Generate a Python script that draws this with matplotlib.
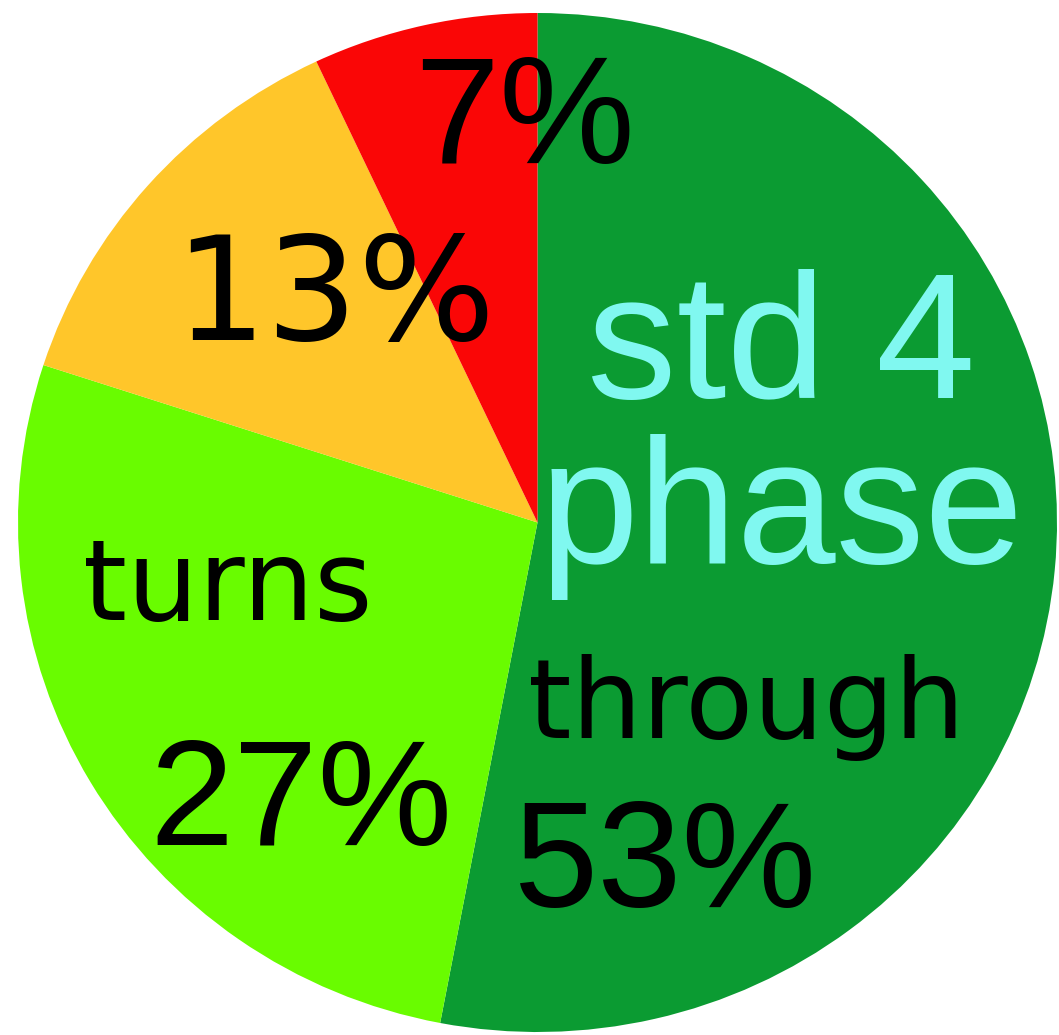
import matplotlib
matplotlib.use('Agg')
import matplotlib.pyplot as plt

# slice data, clockwise from 12 o'clock
shares = [53, 27, 13, 7]
slice_colors = ['#0b9b32', '#69fc00', '#ffc62a', '#fa0606']

# labels inside the pie
label_texts = ['7%', '13%', 'std 4', 'phase', 'turns', '27%', 'through', '53%']
label_px = [(525, 163), (335, 340), (781, 398), (782, 563),
            (228, 620), (301, 845), (746, 738), (666, 907)]
label_sizes = [110, 104, 129, 128, 81, 109, 80, 109]
label_fonts = ['Liberation Sans', 'DejaVu Sans', 'Liberation Sans', 'Liberation Sans',
               'DejaVu Sans', 'Liberation Sans', 'DejaVu Sans', 'Liberation Sans']
label_colors = ['black', 'black', '#80f8f0', '#80f8f0',
                'black', 'black', 'black', 'black']

W, H = 1059, 1035
cx, cy = 537.5, 522.5   # pie centre in pixels
rx, ry = 519.5, 509.5   # pie radii in pixels

fig = plt.figure(figsize=(W / 100, H / 100), dpi=100)
ax = fig.add_axes([0, 0, 1, 1])
ax.pie(shares, colors=slice_colors, startangle=90, counterclock=False,
       wedgeprops=dict(linewidth=0, antialiased=True))
ax.set_aspect('auto')
ax.set_xlim(-cx / rx, (W - cx) / rx)
ax.set_ylim(-(H - cy) / ry, cy / ry)
ax.axis('off')

for txt, (px, py), fs, fam, col in zip(label_texts, label_px, label_sizes,
                                       label_fonts, label_colors):
    ax.text((px - cx) / rx, (cy - py) / ry, txt, fontsize=fs, family=fam,
            color=col, ha='center', va='baseline')

fig.savefig('out.png', dpi=100, facecolor='white')
